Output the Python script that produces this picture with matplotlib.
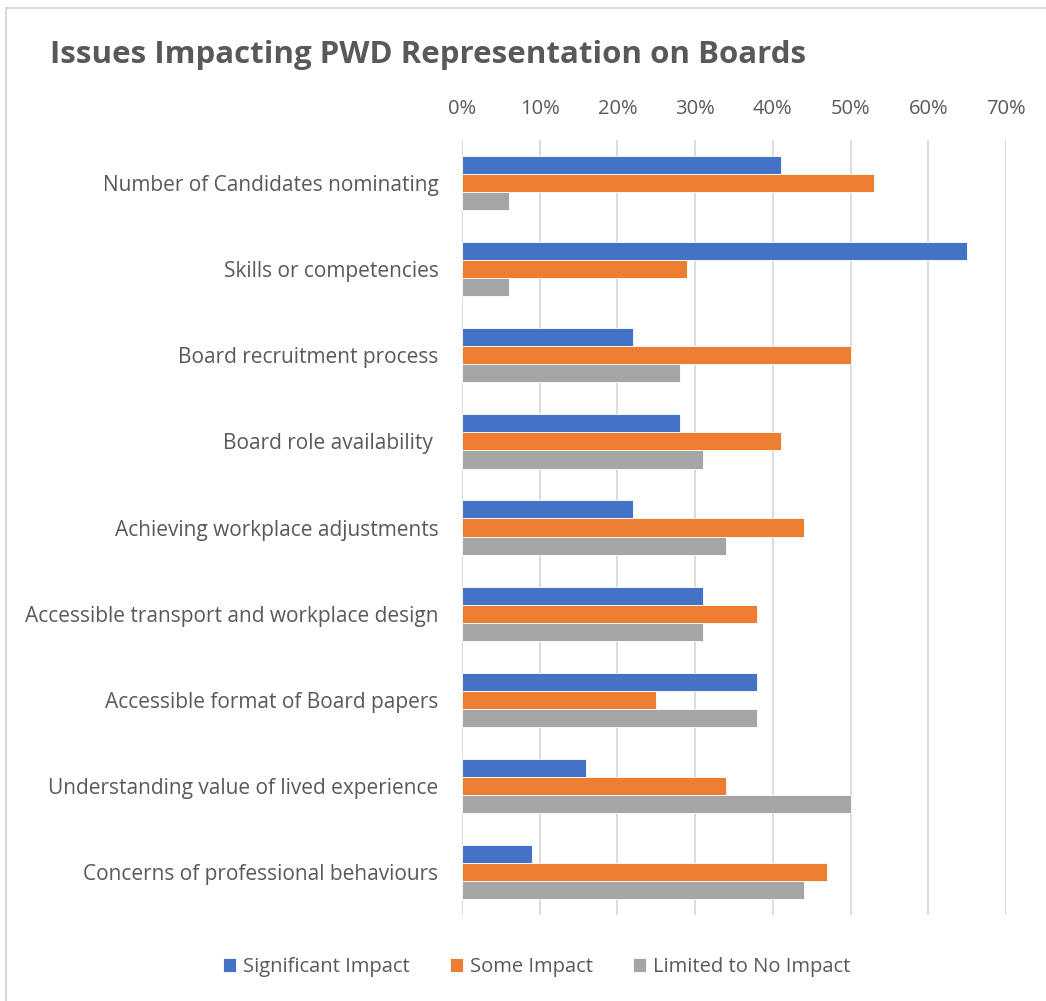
import numpy as np
import matplotlib.pyplot as plt
from matplotlib.patches import Rectangle
import matplotlib.ticker as ticker

categories = [
    "Number of Candidates nominating",
    "Skills or competencies",
    "Board recruitment process",
    "Board role availability ",
    "Achieving workplace adjustments",
    "Accessible transport and workplace design",
    "Accessible format of Board papers",
    "Understanding value of lived experience",
    "Concerns of professional behaviours",
]
significant = [0.41, 0.65, 0.22, 0.28, 0.22, 0.31, 0.38, 0.16, 0.09]
some = [0.53, 0.29, 0.50, 0.41, 0.44, 0.38, 0.25, 0.34, 0.47]
limited = [0.06, 0.06, 0.28, 0.31, 0.34, 0.31, 0.38, 0.50, 0.44]
series_names = ["Significant Impact", "Some Impact", "Limited to No Impact"]

colors = ["#4472C4", "#ED7D31", "#A5A5A5"]
txt = "#595959"

plt.rcParams['font.family'] = ['Open Sans', 'DejaVu Sans']

fig = plt.figure(figsize=(10.46, 10.01), dpi=100)
ax = fig.add_axes([0.4417, 0.0859, 0.5201, 0.7742])

# outer chart border
fig.patches.append(Rectangle((0.006, -0.01), 1.1, 1.002, transform=fig.transFigure,
                             fill=False, edgecolor="#D9D9D9", linewidth=1.5))

y = np.arange(len(categories))
h = 0.21
for i, vals in enumerate([significant, some, limited]):
    ax.barh(y + (i - 1) * h, vals, height=h, color=colors[i], edgecolor="white",
            linewidth=0.6, label=series_names[i], zorder=3)

ax.set_ylim(-0.5, len(categories) - 0.5)
ax.invert_yaxis()
ax.set_xlim(0, 0.7)
ax.set_xticks(np.arange(0, 0.71, 0.1))
ax.xaxis.set_major_formatter(ticker.PercentFormatter(1.0, decimals=0))
ax.xaxis.tick_top()
ax.tick_params(axis='x', length=0, pad=15, labelsize=14.5, labelcolor=txt)
ax.set_yticks(y)
ax.set_yticklabels(categories)
ax.tick_params(axis='y', length=0, pad=17, labelsize=15, labelcolor=txt)
ax.grid(axis='x', color="#D9D9D9", linewidth=1.3, zorder=0)
for s in ax.spines.values():
    s.set_visible(False)

fig.text(0.048, 0.945, "Issues Impacting PWD Representation on Boards", fontsize=22.5,
         fontweight='bold', color=txt, ha='left', va='center')

ax.legend(loc='center', bbox_to_anchor=(0.513, 0.034), bbox_transform=fig.transFigure,
          ncol=3, frameon=False, fontsize=14.5, labelcolor=txt, handlelength=0.65,
          handleheight=0.65, handletextpad=0.35, columnspacing=2.0)

plt.savefig("out.png", dpi=100)
